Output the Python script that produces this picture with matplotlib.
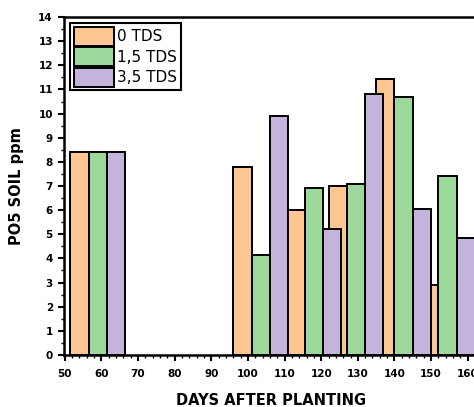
import matplotlib.pyplot as plt
from matplotlib.ticker import MultipleLocator

# days after planting (centre of each 3-bar group) and P soil values
days = [59, 103.5, 118, 129.5, 142.5, 154.5]
tds_0 = [8.4, 7.8, 6.0, 7.0, 11.45, 2.9]
tds_15 = [8.4, 4.15, 6.9, 7.1, 10.7, 7.4]
tds_35 = [8.4, 9.9, 5.2, 10.8, 6.05, 4.85]
labels = ["0 TDS", "1,5 TDS", "3,5 TDS"]
colors = ["#FBC691", "#9DD89B", "#C4B4DB"]

plt.rcParams['font.family'] = ['DejaVu Sans']

fig = plt.figure(figsize=(4.74, 4.07), dpi=100)
ax = fig.add_axes([0.135, 0.128, 0.875, 0.83])

w = 5
series = [tds_0, tds_15, tds_35]
for i, vals in enumerate(series):
    xs = [d + (i - 1) * w for d in days]
    ax.bar(xs, vals, width=w, color=colors[i], edgecolor="black",
           linewidth=1.4, label=labels[i], zorder=2 + i)

ax.set_xlim(49.8, 163)
ax.set_ylim(0, 14)
ax.xaxis.set_major_locator(MultipleLocator(10))
ax.xaxis.set_minor_locator(MultipleLocator(2))
ax.yaxis.set_major_locator(MultipleLocator(1))
ax.yaxis.set_minor_locator(MultipleLocator(0.5))
ax.tick_params(which="major", length=4, width=1.5, labelsize=7.5, pad=4)
ax.tick_params(axis="x", which="major", pad=6)
ax.tick_params(which="minor", length=2, width=1)
for lab in ax.get_xticklabels() + ax.get_yticklabels():
    lab.set_fontweight("bold")

for s in ["left", "bottom", "top"]:
    ax.spines[s].set_linewidth(1.8)
ax.spines["right"].set_visible(False)

ax.set_xlabel("DAYS AFTER PLANTING", fontsize=10.5, fontweight="bold", labelpad=10)
ax.set_ylabel("PO5 SOIL ppm", fontsize=10.5, fontweight="bold", labelpad=10)

leg = ax.legend(loc="upper left", bbox_to_anchor=(0.0, 1.0), fontsize=11,
                handlelength=2.6, handleheight=1.5, labelspacing=0.12,
                handletextpad=0.2, borderpad=0.25, borderaxespad=0.4,
                fancybox=False, framealpha=1)
leg.get_frame().set_edgecolor("black")
leg.get_frame().set_linewidth(1.5)

fig.savefig("out.png", dpi=100)
